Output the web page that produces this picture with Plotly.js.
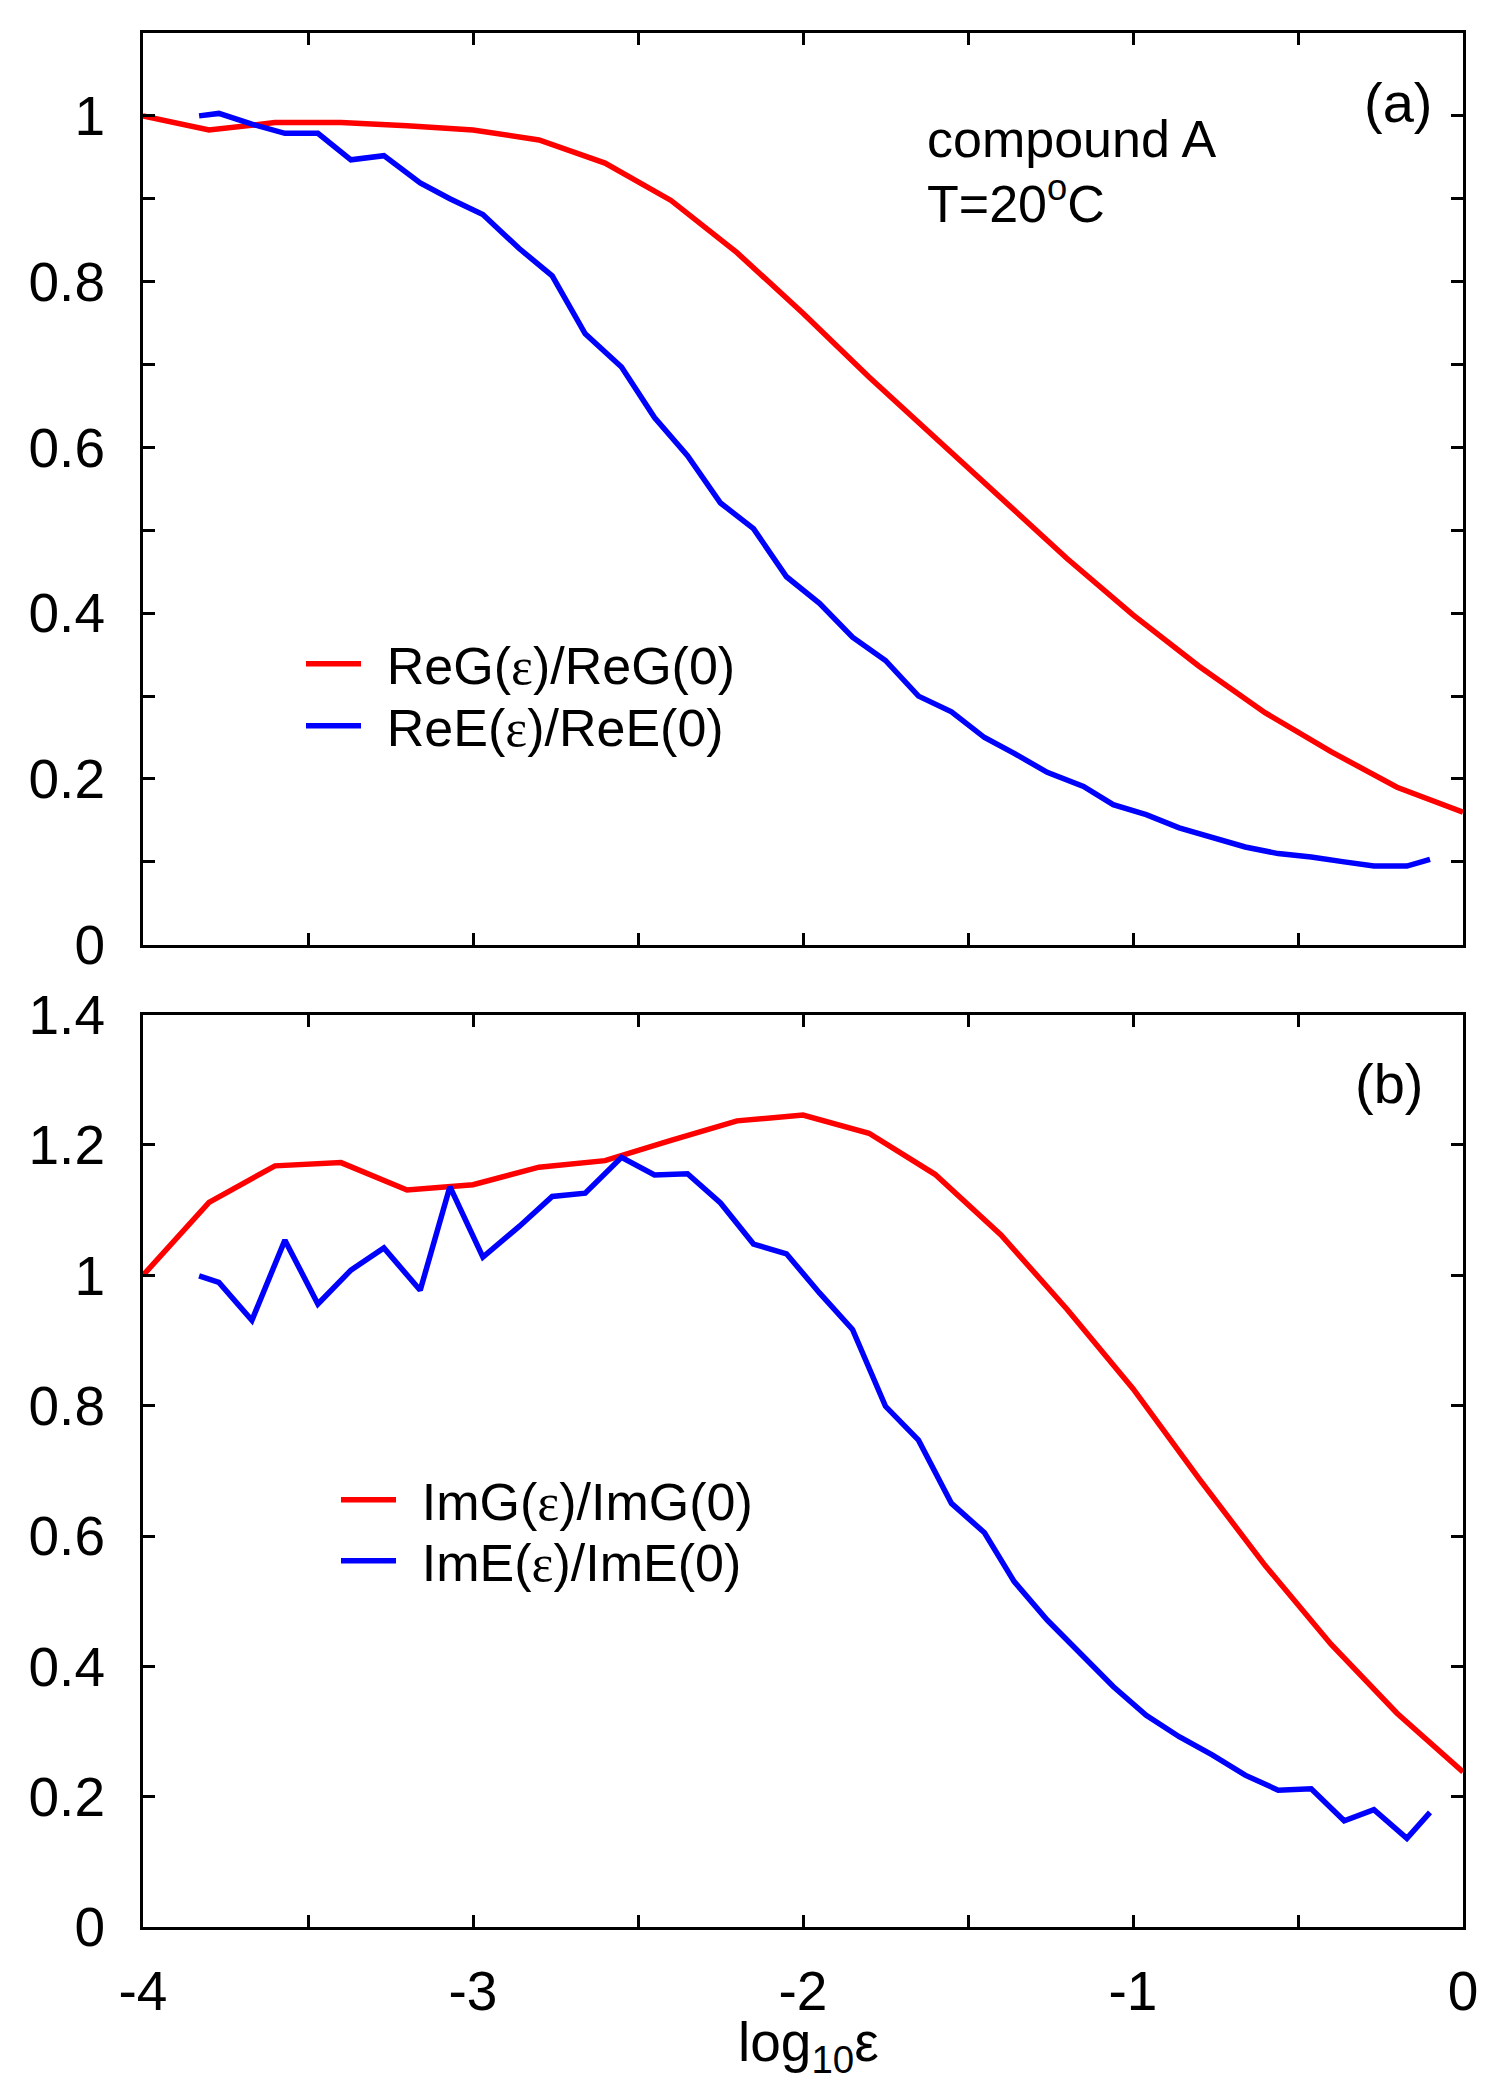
<!DOCTYPE html>
<html>
<head>
<meta charset="utf-8">
<script src="https://cdn.plot.ly/plotly-3.0.1.min.js"></script>
<style>html,body{margin:0;padding:0;background:#fff;}#chart{width:1501px;height:2100px;}</style>
</head>
<body>
<div id="chart"></div>
<script>
// log10(strain) grid for G curves
const xG = [-4.0,-3.8,-3.6,-3.4,-3.2,-3.0,-2.8,-2.6,-2.4,-2.2,-2.0,-1.8,-1.6,-1.4,-1.2,-1.0,-0.8,-0.6,-0.4,-0.2,0.0];
// log10(strain) grid for E curves
const xE = [-3.83,-3.77,-3.67,-3.57,-3.47,-3.37,-3.27,-3.16,-3.07,-2.97,-2.86,-2.76,-2.66,-2.55,-2.45,-2.35,-2.25,-2.15,-2.05,-1.95,-1.85,-1.75,-1.65,-1.55,-1.45,-1.36,-1.26,-1.15,-1.06,-0.96,-0.86,-0.76,-0.66,-0.56,-0.46,-0.36,-0.27,-0.17,-0.10];

// panel (a)
const reG = [1.000,0.983,0.992,0.992,0.988,0.983,0.971,0.943,0.898,0.835,0.762,0.685,0.612,0.538,0.466,0.398,0.336,0.280,0.233,0.190,0.160];
const reE = [1.000,1.003,0.990,0.979,0.979,0.947,0.952,0.919,0.900,0.881,0.840,0.807,0.737,0.697,0.636,0.590,0.533,0.502,0.444,0.412,0.371,0.343,0.300,0.281,0.250,0.231,0.208,0.191,0.169,0.157,0.141,0.129,0.118,0.110,0.106,0.100,0.095,0.095,0.103];

// panel (b)
const imG = [1.000,1.112,1.168,1.173,1.131,1.139,1.166,1.176,1.207,1.237,1.246,1.218,1.155,1.062,0.948,0.826,0.688,0.555,0.434,0.328,0.238];
const imE = [0.999,0.989,0.931,1.054,0.956,1.008,1.042,0.977,1.136,1.028,1.075,1.121,1.126,1.181,1.154,1.156,1.111,1.048,1.033,0.973,0.917,0.799,0.747,0.650,0.605,0.530,0.471,0.415,0.369,0.325,0.292,0.264,0.233,0.210,0.212,0.163,0.180,0.136,0.176];

// ticks
const xTickVals = [-4,-3,-2,-1,0];
const xTickText = ['-4','-3','-2','-1','0'];
const xMinorVals = [-3.5,-2.5,-1.5,-0.5];
const yaTickVals = [0,0.2,0.4,0.6,0.8,1.0];
const yaTickText = ['0','0.2','0.4','0.6','0.8','1'];
const yaMinorVals = [0.1,0.3,0.5,0.7,0.9];
const ybTickVals = [0,0.2,0.4,0.6,0.8,1.0,1.2,1.4];
const ybTickText = ['0','0.2','0.4','0.6','0.8','1','1.2','1.4'];

// legend labels
const EPS = '<span style="font-family:Liberation Serif, Times New Roman, serif">ε</span>';
const GAP = '\u2009\u2009';
const names = {
  reG: GAP + 'ReG(' + EPS + ')/ReG(0)',
  reE: GAP + 'ReE(' + EPS + ')/ReE(0)',
  imG: GAP + 'ImG(' + EPS + ')/ImG(0)',
  imE: GAP + 'ImE(' + EPS + ')/ImE(0)'
};

const FONT = 'Liberation Sans, Arial, Helvetica, sans-serif';
const RED = '#ff0000', BLUE = '#0000ff';
const LW = 5.5;

const traces = [
  {x: xG, y: reG, xaxis: 'x2', yaxis: 'y2', mode: 'lines', name: names.reG, line: {color: RED, width: LW}, legend: 'legend'},
  {x: xE, y: reE, xaxis: 'x2', yaxis: 'y2', mode: 'lines', name: names.reE, line: {color: BLUE, width: LW}, legend: 'legend2'},
  {x: xG, y: imG, xaxis: 'x', yaxis: 'y', mode: 'lines', name: names.imG, line: {color: RED, width: LW}, legend: 'legend3'},
  {x: xE, y: imE, xaxis: 'x', yaxis: 'y', mode: 'lines', name: names.imE, line: {color: BLUE, width: LW}, legend: 'legend4'}
];

const minorStyle = {ticks: 'inside', ticklen: 12, tickwidth: 3, tickcolor: '#000', showgrid: false};
const axBase = {
  showline: true, linecolor: '#000', linewidth: 3, mirror: 'ticks',
  ticks: 'inside', ticklen: 12, tickwidth: 3, tickcolor: '#000',
  showgrid: false, zeroline: false, tickmode: 'array',
  tickfont: {family: FONT, size: 55, color: '#000'}
};

const legBase = {xanchor: 'left', yanchor: 'middle', bgcolor: 'rgba(0,0,0,0)', borderwidth: 0,
  itemwidth: 55, font: {family: FONT, size: 52, color: '#000'}};
const H = 1894, T = 33, L = 143, W = 1320;
function px(xp) { return (xp - L) / W; }
function py(yp) { return (T + H - yp) / H; }

const layout = {
  width: 1501, height: 2100,
  margin: {l: 143, r: 38, t: 33, b: 173},
  paper_bgcolor: '#fff', plot_bgcolor: '#fff',
  font: {family: FONT, color: '#000'},
  xaxis: Object.assign({}, axBase, {
    range: [-4, 0], anchor: 'y', tickvals: xTickVals, ticktext: xTickText,
    minor: Object.assign({tickvals: xMinorVals}, minorStyle),
    ticklabelstandoff: 14
  }),
  yaxis: Object.assign({}, axBase, {
    range: [0, 1.4], domain: [0, 0.4817], anchor: 'x',
    tickvals: ybTickVals, ticktext: ybTickText, ticklabelstandoff: 24
  }),
  xaxis2: Object.assign({}, axBase, {
    range: [-4, 0], anchor: 'y2', tickvals: xTickVals, ticktext: xTickText, showticklabels: false,
    minor: Object.assign({tickvals: xMinorVals}, minorStyle)
  }),
  yaxis2: Object.assign({}, axBase, {
    range: [0, 1.1], domain: [0.5186, 1], anchor: 'x2',
    tickvals: yaTickVals, ticktext: yaTickText, ticklabelstandoff: 24,
    minor: Object.assign({tickvals: yaMinorVals}, minorStyle)
  }),
  legend: Object.assign({}, legBase, {x: px(301), y: py(664)}),
  legend2: Object.assign({}, legBase, {x: px(301), y: py(726)}),
  legend3: Object.assign({}, legBase, {x: px(336), y: py(1500)}),
  legend4: Object.assign({}, legBase, {x: px(336), y: py(1561)}),
  annotations: [
    {xref: 'paper', yref: 'paper', x: px(808), y: py(2046), xanchor: 'center', yanchor: 'middle', showarrow: false,
     text: 'log<sub>10</sub>ε', font: {family: FONT, size: 55, color: '#000'}},
    {xref: 'paper', yref: 'paper', x: px(925), y: py(139), xanchor: 'left', yanchor: 'middle', showarrow: false,
     text: 'compound A', font: {family: FONT, size: 52, color: '#000'}},
    {xref: 'paper', yref: 'paper', x: px(925), y: py(200), xanchor: 'left', yanchor: 'middle', showarrow: false,
     text: 'T=20<sup>o</sup>C', font: {family: FONT, size: 52, color: '#000'}},
    {xref: 'paper', yref: 'paper', x: px(1398), y: py(102), xanchor: 'center', yanchor: 'middle', showarrow: false,
     text: '(a)', font: {family: FONT, size: 56, color: '#000'}},
    {xref: 'paper', yref: 'paper', x: px(1389), y: py(1083), xanchor: 'center', yanchor: 'middle', showarrow: false,
     text: '(b)', font: {family: FONT, size: 56, color: '#000'}}
  ],
  showlegend: true
};

Plotly.newPlot('chart', traces, layout, {displayModeBar: false, staticPlot: true});
</script>
</body>
</html>
